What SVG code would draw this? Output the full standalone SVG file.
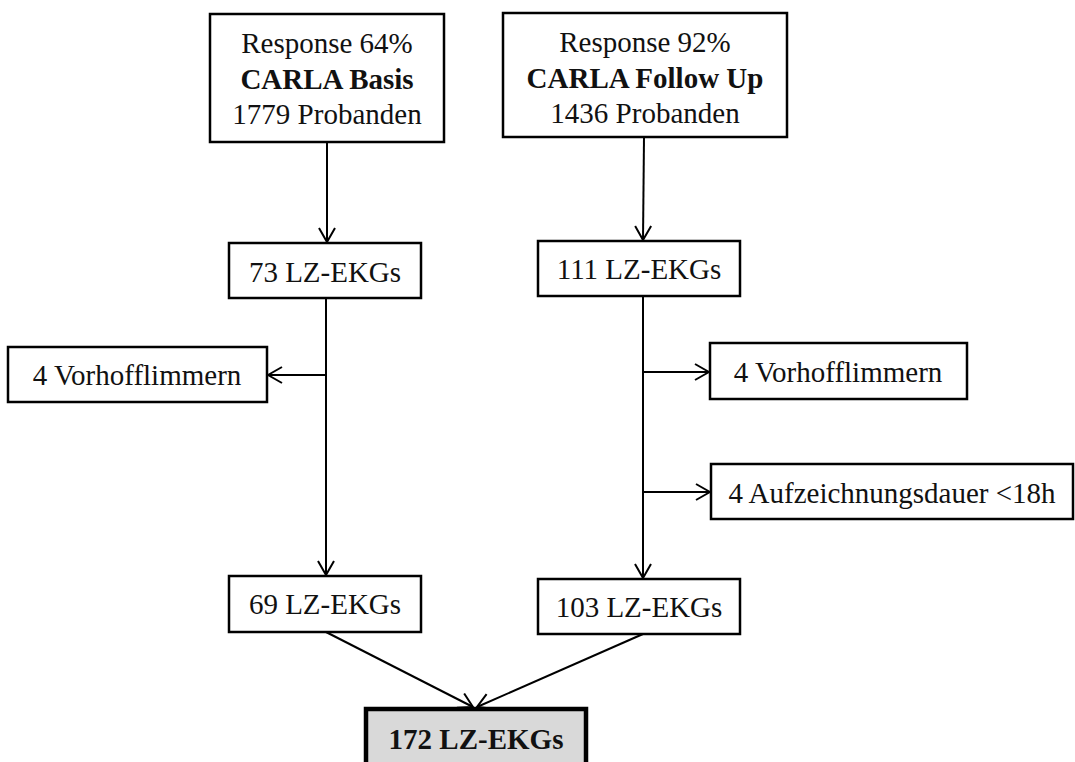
<svg xmlns="http://www.w3.org/2000/svg" width="1075" height="762" viewBox="0 0 1075 762">
<style>
.box{fill:#fff;stroke:#000;stroke-width:2.5}
.fin{fill:#d9d9d9;stroke:#000;stroke-width:4.5}
.t{font-family:"Liberation Serif","Times New Roman",serif;font-size:29px;fill:#111;text-anchor:middle}
.b{font-weight:bold}
.c{stroke:#000;stroke-width:2;fill:none}
</style>
<defs>
<marker id="a" markerUnits="userSpaceOnUse" viewBox="0 0 16 18" refX="15" refY="9" markerWidth="16" markerHeight="18" orient="auto">
<path d="M1,1 L15,9 L1,17" fill="none" stroke="#000" stroke-width="2"/>
</marker>
</defs>
<rect width="1075" height="762" fill="#fff"/>
<g id="connectors">
<line class="c" x1="327" y1="142" x2="327" y2="242" marker-end="url(#a)"/>
<line class="c" x1="326" y1="298" x2="326" y2="575" marker-end="url(#a)"/>
<line class="c" x1="326" y1="375" x2="268" y2="375" marker-end="url(#a)"/>
<line class="c" x1="644" y1="137" x2="643" y2="240" marker-end="url(#a)"/>
<line class="c" x1="643" y1="296" x2="643" y2="578" marker-end="url(#a)"/>
<line class="c" x1="643" y1="372" x2="709" y2="372" marker-end="url(#a)"/>
<line class="c" x1="643" y1="492" x2="710" y2="492" marker-end="url(#a)"/>
<line class="c" x1="326" y1="632" x2="473" y2="707" marker-end="url(#a)"/>
<line class="c" x1="643" y1="634" x2="477" y2="707" marker-end="url(#a)"/>
</g>
<g id="basis">
<rect class="box" x="210" y="14" width="234" height="128"/>
<text class="t" x="327" y="53">Response 64%</text>
<text class="t b" x="327" y="89">CARLA Basis</text>
<text class="t" x="327" y="124">1779 Probanden</text>
</g>
<g id="followup">
<rect class="box" x="503" y="13" width="284" height="124"/>
<text class="t" x="645" y="52">Response 92%</text>
<text class="t b" x="645" y="88">CARLA Follow Up</text>
<text class="t" x="645" y="123">1436 Probanden</text>
</g>
<g id="n73">
<rect class="box" x="229" y="243" width="192" height="55"/>
<text class="t" x="325" y="282">73 LZ-EKGs</text>
</g>
<g id="n111">
<rect class="box" x="538" y="241" width="202" height="55"/>
<text class="t" x="639" y="279">111 LZ-EKGs</text>
</g>
<g id="vhf1">
<rect class="box" x="8" y="347" width="259" height="55"/>
<text class="t" x="137" y="385">4 Vorhofflimmern</text>
</g>
<g id="vhf2">
<rect class="box" x="710" y="343" width="257" height="56"/>
<text class="t" x="838" y="382">4 Vorhofflimmern</text>
</g>
<g id="dauer">
<rect class="box" x="711" y="464" width="362" height="55"/>
<text class="t" x="892" y="503">4 Aufzeichnungsdauer &lt;18h</text>
</g>
<g id="n69">
<rect class="box" x="229" y="576" width="192" height="56"/>
<text class="t" x="325" y="614">69 LZ-EKGs</text>
</g>
<g id="n103">
<rect class="box" x="538" y="579" width="202" height="55"/>
<text class="t" x="639" y="617">103 LZ-EKGs</text>
</g>
<g id="total">
<rect class="fin" x="366" y="709" width="220" height="70"/>
<text class="t b" x="476" y="749">172 LZ-EKGs</text>
</g>
</svg>
